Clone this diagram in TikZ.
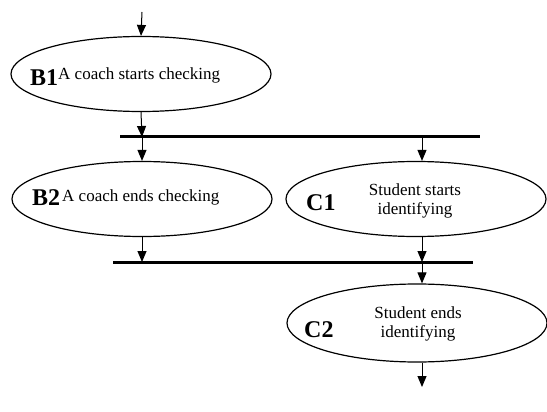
\documentclass[tikz,border=0pt]{standalone}
\usepackage{fontspec}
\setmainfont{Liberation Serif}
\usetikzlibrary{shapes.geometric,arrows.meta}

\tikzset{
  state/.style={draw, ellipse, line width=1.2pt, minimum width=260pt,
                minimum height=75pt, inner sep=0pt},
  tag/.style={font=\fontsize{24}{24}\selectfont\bfseries, anchor=base west, inner sep=0pt},
  desc/.style={font=\fontsize{17}{19}\selectfont, anchor=base west, inner sep=0pt},
  desc2/.style={font=\fontsize{17}{19}\selectfont, align=center, inner sep=0pt},
  flow/.style={line width=1pt, -{Triangle[length=11pt,width=9pt]}},
  syncbar/.style={line width=3pt}
}

\begin{document}
\begin{tikzpicture}[x=1pt,y=-1pt]
  \useasboundingbox (0,0) rectangle (547,412);

  % activity states
  \node[state] (b1) at (141,74) {};
  \node[state] (b2) at (142,199) {};
  \node[state] (c1) at (416,199) {};
  \node[state, minimum height=78pt] (c2) at (417,323) {};

  % labels
  \node[tag]  (b1t) at (30,85)  {B1};
  \node[desc] (b1d) at (58,80)  {A coach starts checking};
  \node[tag]  (b2t) at (32,205) {B2};
  \node[desc] (b2d) at (62,201) {A coach ends checking};
  \node[tag]  (c1t) at (306,210) {C1};
  \node[desc2] (c1d) at (415,201) {Student starts\\identifying};
  \node[tag]  (c2t) at (304,337) {C2};
  \node[desc2] (c2d) at (418,324) {Student ends\\identifying};

  % synchronisation bars
  \coordinate (f1w) at (120,137);
  \coordinate (f1e) at (480,137);
  \coordinate (f2w) at (113,262);
  \coordinate (f2e) at (473,262);
  \draw[syncbar] (f1w) -- (f1e);
  \draw[syncbar] (f2w) -- (f2e);

  % columns where the arrows run
  \coordinate (colB) at (142,0);
  \coordinate (colC) at (422,0);
  \coordinate (start) at (142,12);
  \coordinate (finish) at (422,387);

  % control flow
  \draw[flow] (start) -- (b1.north);
  \draw[flow] (b1.south) -- (colB |- f1w);
  \draw[flow] (colB |- f1w) -- (b2.north);
  \draw[flow] (colC |- f1w) -- (colC |- c1.north);
  \draw[flow] (b2.south) -- (colB |- f2w);
  \draw[flow] (colC |- c1.south) -- (colC |- f2w);
  \draw[flow] (colC |- f2w) -- (colC |- c2.north);
  \draw[flow] (colC |- c2.south) -- (finish);
\end{tikzpicture}
\end{document}
